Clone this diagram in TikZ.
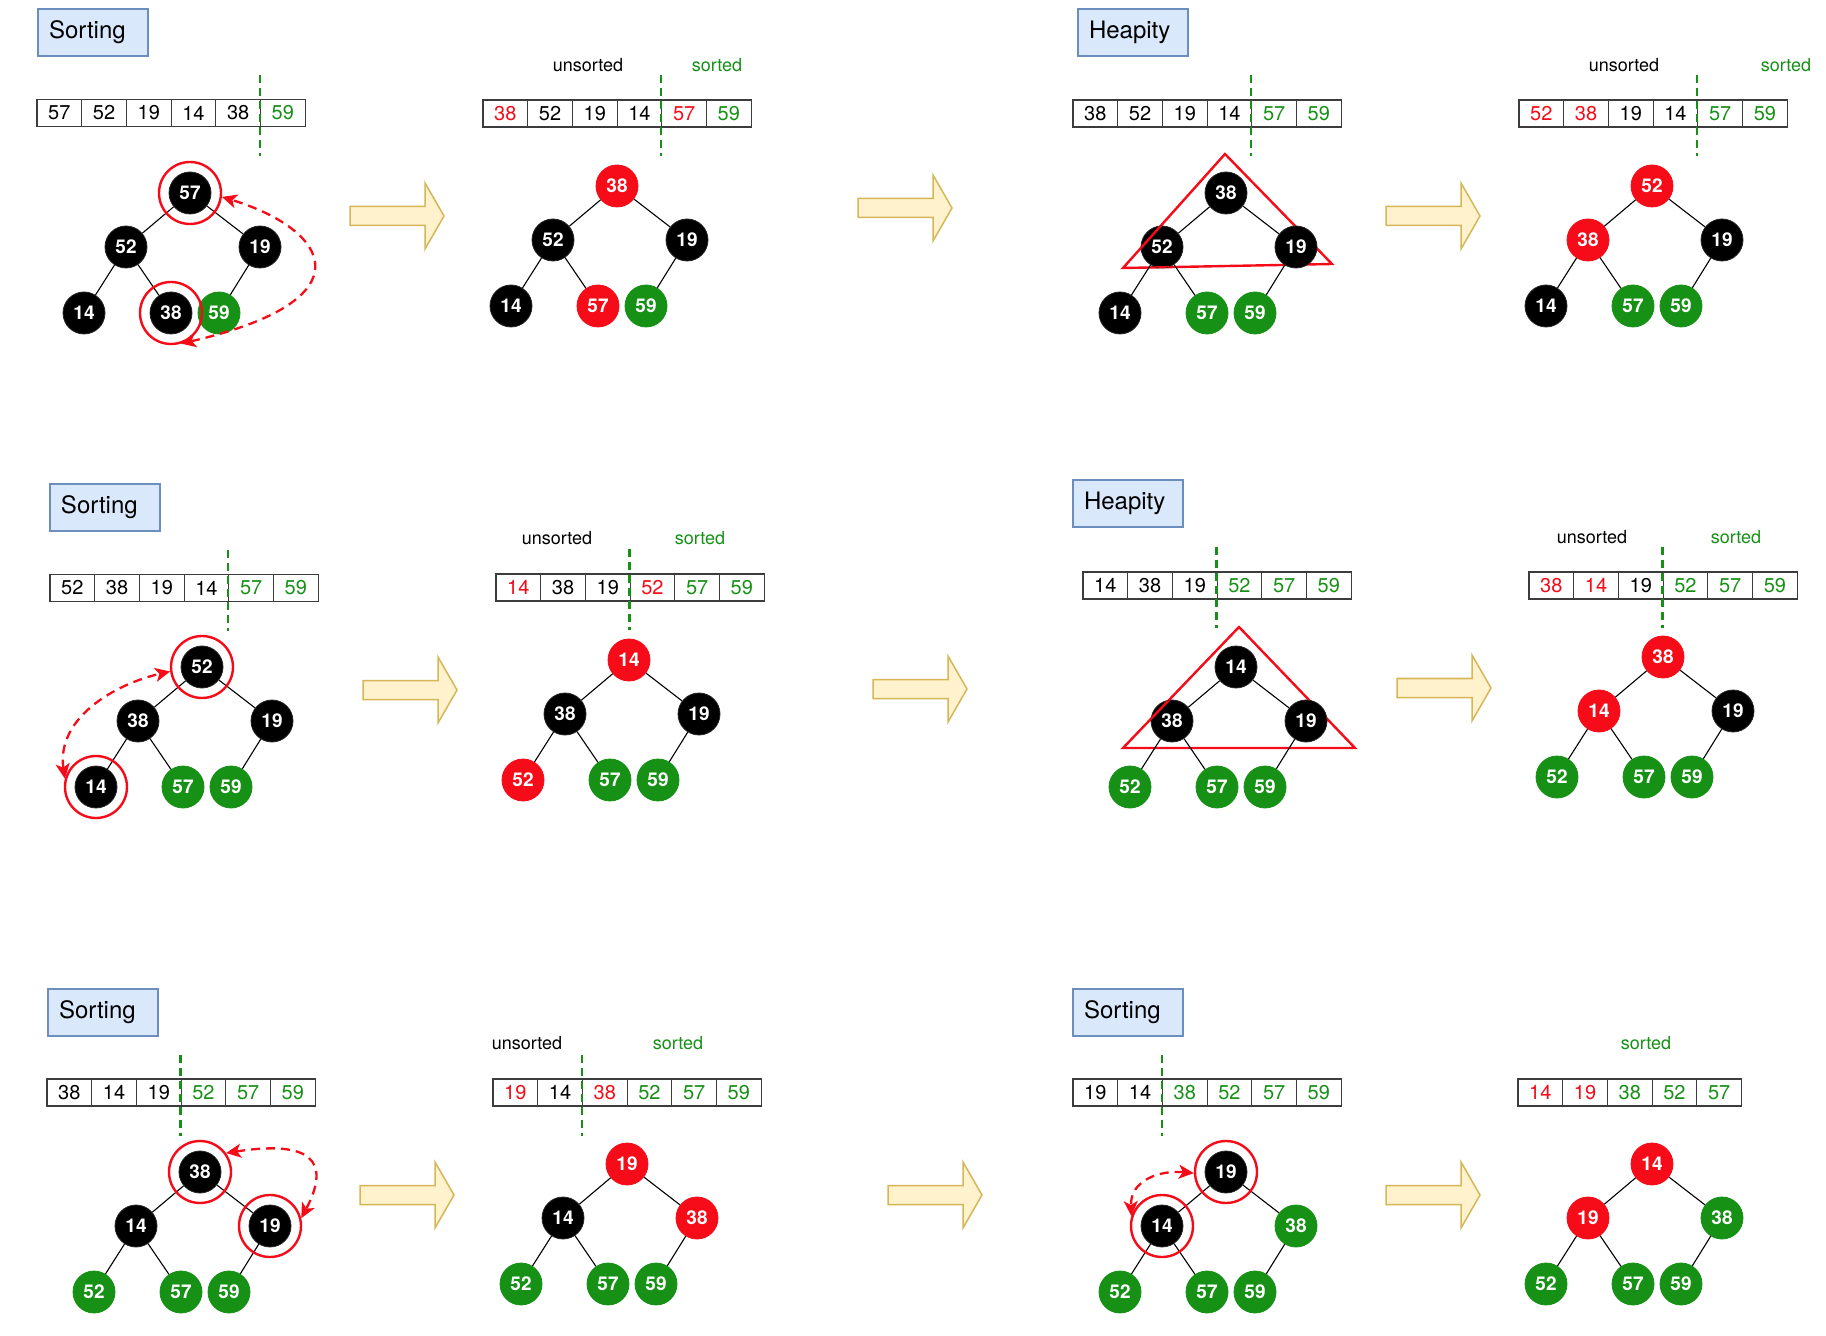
\documentclass[tikz,border=0pt]{standalone}
\usepackage{fontspec}
\setmainfont{TeX Gyre Heros}
\usetikzlibrary{calc,arrows.meta}
\definecolor{cr}{RGB}{245,12,24}
\definecolor{cg}{RGB}{22,145,22}
\definecolor{ck}{RGB}{0,0,0}
\definecolor{arrfill}{HTML}{FFF2CC}
\definecolor{arrdraw}{HTML}{D6B656}
\definecolor{lblfill}{HTML}{DAE8FC}
\definecolor{lbldraw}{HTML}{6C8EBF}
\definecolor{cellline}{RGB}{60,60,60}
\tikzset{
 hnode/.style={circle,minimum size=21pt,inner sep=0pt,text=white,font=\bfseries\fontsize{9.5}{11}\selectfont},
 nk/.style={hnode,fill=black,draw=black!85},
 nr/.style={hnode,fill=cr,draw=cr},
 ng/.style={hnode,fill=cg,draw=cg},
 tedge/.style={line width=0.55pt,black},
 cell/.style={draw=cellline,line width=0.6pt,minimum width=22.35pt,minimum height=13.5pt,inner sep=0pt,font=\fontsize{10}{12}\selectfont},
 divider/.style={draw=cg,line width=1.2pt,dash pattern=on 4pt off 2.5pt},
 hl/.style={circle,draw=cr,line width=1.2pt,minimum size=31pt,inner sep=0pt},
 swaparr/.style={draw=cr,line width=1.15pt,dash pattern=on 4.5pt off 3pt,{Stealth[length=7.5pt,width=7pt,inset=2pt]}-{Stealth[length=7.5pt,width=7pt,inset=2pt]}},
 tri/.style={draw=cr,line width=1.2pt,line join=miter},
 lbl/.style={draw=lbldraw,fill=lblfill,line width=1pt,anchor=north west,minimum height=23.5pt,text width=44pt,inner xsep=5.5pt,align=left,font=\fontsize{12}{14}\selectfont},
 tag/.style={font=\fontsize{9}{11}\selectfont},
 blockarr/.style={draw=arrdraw,fill=arrfill,line width=0.75pt},
}
\newcommand\mytree[9]{%
 \node (#1r) at (#2,#3) #4;
 \node (#1a) at ($(#2,#3)+(-64,54)$) #5;
 \node (#1b) at ($(#2,#3)+(70,54)$) #6;
 \node (#1c) at ($(#2,#3)+(-106,120)$) #7;
 \node (#1d) at ($(#2,#3)+(-19,120)$) #8;
 \node (#1e) at ($(#2,#3)+(29,120)$) #9;
 \draw[tedge] (#1r)--(#1a) (#1r)--(#1b) (#1a)--(#1c) (#1a)--(#1d) (#1b)--(#1e);
}
\newcommand\myarr[4]{%
 \foreach \clr/\val [count=\i] in {#4} {\node[cell,text=\clr] (#1-\i) at ({#2+44.7*\i-22.35},#3) {\val};}
}
\newcommand\mydiv[2]{\draw[divider] ($(#1-#2.west)+(0,-38)$) -- ($(#1-#2.west)+(0,43)$);}
\newcommand\yarrow[2]{\draw[blockarr] (#1,#2-9.5) -- ++(75,0) -- ++(0,-23.5) -- (#1+94,#2) -- (#1+75,#2+33) -- ++(0,-23.5) -- (#1,#2+9.5) -- cycle;}
\begin{document}
\begin{tikzpicture}[x=0.5pt,y=-0.5pt]
\fill[white] (0,0) rectangle (1826,1336);
\useasboundingbox (0,0) rectangle (1826,1336);

% ---------- row 1 ----------
\node[lbl] (t11) at (37,8) {Sorting};
\myarr{a11}{37}{113}{ck/57,ck/52,ck/19,ck/14,ck/38,cg/59}
\mydiv{a11}{6}
\mytree{n11}{190}{193}{[nk]{57}}{[nk]{52}}{[nk]{19}}{[nk]{14}}{[nk]{38}}{[ng]{59}}
\node[hl] (h11a) at (n11r) {};
\node[hl] (h11b) at (n11d) {};
\draw[swaparr] (h11b.-72) .. controls (370,300) and (330,230) .. (h11a.-7);

\node[tag] (u12) at (588,65) {unsorted};
\node[tag,text=cg] (s12) at (717,65) {sorted};
\myarr{a12}{483}{113.5}{cr/38,ck/52,ck/19,ck/14,cr/57,cg/59}
\mydiv{a12}{5}
\mytree{n12}{617}{186}{[nr]{38}}{[nk]{52}}{[nk]{19}}{[nk]{14}}{[nr]{57}}{[ng]{59}}

\node[lbl] (t13) at (1077,8) {Heapity};
\myarr{a13}{1073}{113.5}{ck/38,ck/52,ck/19,ck/14,cg/57,cg/59}
\mydiv{a13}{5}
\draw[tri] (1225,154) -- (1123,268) -- (1332,264) -- cycle;
\mytree{n13}{1226}{193}{[nk]{38}}{[nk]{52}}{[nk]{19}}{[nk]{14}}{[ng]{57}}{[ng]{59}}
\begin{scope}\clip (n13a) circle (21); \draw[tri] (1225,154) -- (1123,268) -- (1332,264) -- cycle;\end{scope}

\node[tag] (u14) at (1624,65) {unsorted};
\node[tag,text=cg] (s14) at (1786,65) {sorted};
\myarr{a14}{1519}{113.5}{cr/52,cr/38,ck/19,ck/14,cg/57,cg/59}
\mydiv{a14}{5}
\mytree{n14}{1652}{186}{[nr]{52}}{[nr]{38}}{[nk]{19}}{[nk]{14}}{[ng]{57}}{[ng]{59}}

\yarrow{350}{216}
\yarrow{858}{208}
\yarrow{1386}{216}

% ---------- row 2 ----------
\node[lbl] (t21) at (49,483) {Sorting};
\myarr{a21}{50}{588}{ck/52,ck/38,ck/19,ck/14,cg/57,cg/59}
\mydiv{a21}{5}
\mytree{n21}{202}{667}{[nk]{52}}{[nk]{38}}{[nk]{19}}{[nk]{14}}{[ng]{57}}{[ng]{59}}
\node[hl] (h21a) at (n21r) {};
\node[hl] (h21b) at (n21c) {};
\draw[swaparr] (h21b.165) .. controls (56,718) and (115,684) .. (h21a.-172);

\node[tag] (u22) at (557,538) {unsorted};
\node[tag,text=cg] (s22) at (700,538) {sorted};
\myarr{a22}{496}{587.5}{cr/14,ck/38,ck/19,cr/52,cg/57,cg/59}
\mydiv{a22}{4}
\mytree{n22}{629}{660}{[nr]{14}}{[nk]{38}}{[nk]{19}}{[nr]{52}}{[ng]{57}}{[ng]{59}}

\node[lbl] (t23) at (1072,479) {Heapity};
\myarr{a23}{1083}{585.5}{ck/14,ck/38,ck/19,cg/52,cg/57,cg/59}
\mydiv{a23}{4}
\draw[tri] (1239,627) -- (1123,748) -- (1355,748) -- cycle;
\mytree{n23}{1236}{667}{[nk]{14}}{[nk]{38}}{[nk]{19}}{[ng]{52}}{[ng]{57}}{[ng]{59}}
\begin{scope}\clip (n23a) circle (21); \draw[tri] (1239,627) -- (1123,748) -- (1355,748) -- cycle;\end{scope}

\node[tag] (u24) at (1592,537) {unsorted};
\node[tag,text=cg] (s24) at (1736,537) {sorted};
\myarr{a24}{1529}{585.5}{cr/38,cr/14,ck/19,cg/52,cg/57,cg/59}
\mydiv{a24}{4}
\mytree{n24}{1663}{657}{[nr]{38}}{[nr]{14}}{[nk]{19}}{[ng]{52}}{[ng]{57}}{[ng]{59}}

\yarrow{363}{690}
\yarrow{873}{689}
\yarrow{1397}{688}

% ---------- row 3 ----------
\node[lbl] (t31) at (47,988) {Sorting};
\myarr{a31}{47}{1092.5}{ck/38,ck/14,ck/19,cg/52,cg/57,cg/59}
\mydiv{a31}{4}
\mytree{n31}{200}{1172}{[nk]{38}}{[nk]{14}}{[nk]{19}}{[ng]{52}}{[ng]{57}}{[ng]{59}}
\node[hl] (h31a) at (n31r) {};
\node[hl] (h31b) at (n31b) {};
\draw[swaparr] (h31a.36) .. controls (310,1140) and (332,1160) .. (h31b.14);

\node[tag] (u32) at (527,1043) {unsorted};
\node[tag,text=cg] (s32) at (678,1043) {sorted};
\myarr{a32}{493}{1092.5}{cr/19,ck/14,cr/38,cg/52,cg/57,cg/59}
\mydiv{a32}{3}
\mytree{n32}{627}{1164}{[nr]{19}}{[nk]{14}}{[nr]{38}}{[ng]{52}}{[ng]{57}}{[ng]{59}}

\node[lbl] (t33) at (1072,988) {Sorting};
\myarr{a33}{1073}{1092.5}{ck/19,ck/14,cg/38,cg/52,cg/57,cg/59}
\mydiv{a33}{3}
\mytree{n33}{1226}{1172}{[nk]{19}}{[nk]{14}}{[ng]{38}}{[ng]{52}}{[ng]{57}}{[ng]{59}}
\node[hl] (h33a) at (n33r) {};
\node[hl] (h33b) at (n33a) {};
\draw[swaparr] (h33a.-178) .. controls (1160,1170) and (1130,1180) .. (h33b.162);

\node[tag,text=cg] (s34) at (1646,1043) {sorted};
\myarr{a34}{1518}{1092.5}{cr/14,cr/19,cg/38,cg/52,cg/57}
\mytree{n34}{1652}{1164}{[nr]{14}}{[nr]{19}}{[ng]{38}}{[ng]{52}}{[ng]{57}}{[ng]{59}}

\yarrow{360}{1195}
\yarrow{888}{1195}
\yarrow{1386}{1195}
\end{tikzpicture}
\end{document}
